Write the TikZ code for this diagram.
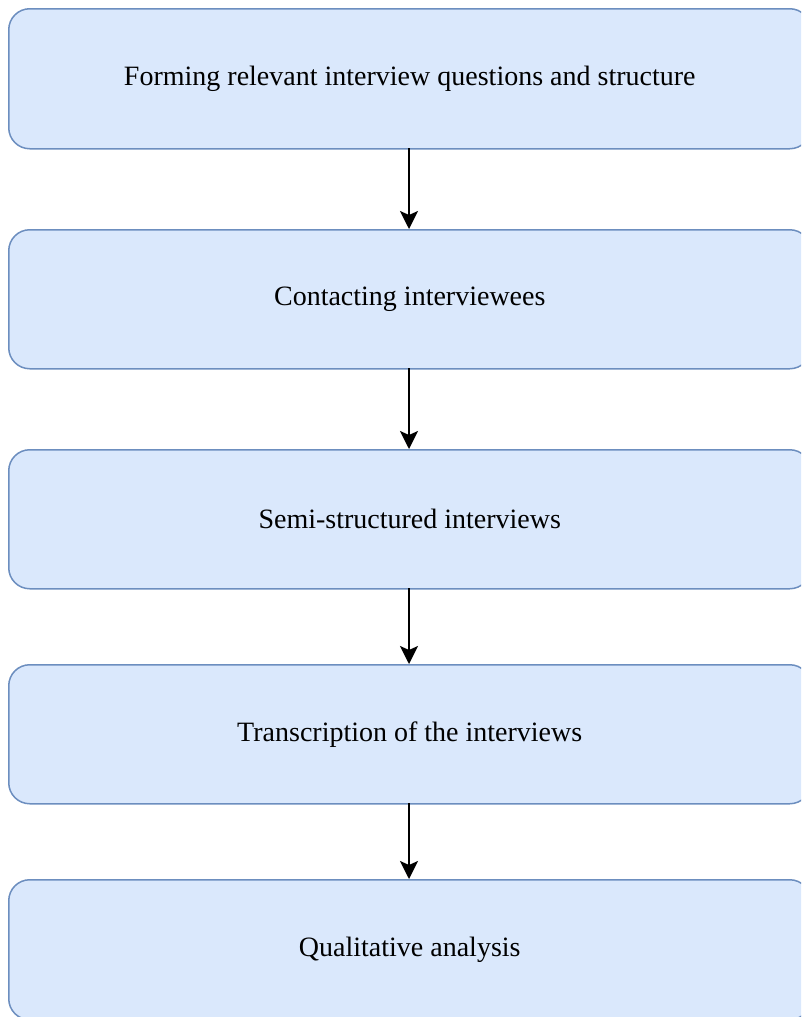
\documentclass[tikz,border=0pt]{standalone}
\usepackage{fontspec}
\setmainfont{Liberation Serif}
\usetikzlibrary{arrows.meta}
\definecolor{boxfill}{HTML}{DAE8FC}
\definecolor{boxline}{HTML}{6C8EBF}
\begin{document}
\begin{tikzpicture}[x=1pt,y=-1pt,
  stepbox/.style={draw=boxline,fill=boxfill,line width=1.5pt,rounded corners=21pt,
    minimum width=802pt,minimum height=140pt,anchor=north west,inner sep=0pt,
    font=\fontsize{28}{33}\selectfont},
  flow/.style={line width=2pt,-{Stealth[length=18pt,width=18pt,inset=4pt]}}]
\useasboundingbox (0,0) rectangle (801,1017);
\begin{scope}
\clip (0,0) rectangle (801,1017);
\node[stepbox] (b1) at (8,8) {Forming relevant interview questions and structure};
\node[stepbox,minimum height=139pt] (b2) at (8,229) {Contacting interviewees};
\node[stepbox,minimum height=139pt] (b3) at (8,449) {Semi-structured interviews};
\node[stepbox,minimum height=139pt] (b4) at (8,664) {Transcription of the interviews};
\node[stepbox] (b5) at (8,879) {Qualitative analysis};
\end{scope}
\draw[flow] (409,148) -- (409,229);
\draw[flow] (409,368) -- (409,449);
\draw[flow] (409,588) -- (409,664);
\draw[flow] (409,803) -- (409,879);
\end{tikzpicture}
\end{document}
